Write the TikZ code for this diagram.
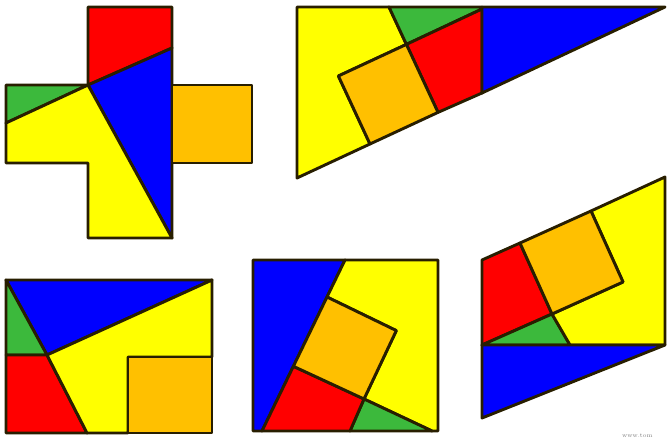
\documentclass[tikz,border=0pt]{standalone}
\usepackage{tikz}
\definecolor{outl}{RGB}{40,30,0}
\definecolor{cyel}{RGB}{255,255,0}
\definecolor{cred}{RGB}{255,0,0}
\definecolor{cblu}{RGB}{0,0,255}
\definecolor{cgrn}{RGB}{60,185,60}
\definecolor{corg}{RGB}{255,192,0}
\tikzset{
  piece/.style={draw=outl, line width=2.9pt, line join=round},
  yel/.style={piece, fill=cyel},
  red/.style={piece, fill=cred},
  blu/.style={piece, fill=cblu},
  grn/.style={piece, fill=cgrn},
  org/.style={piece, fill=corg},
  mark text/.style={font=\fontsize{6}{6}\selectfont, text=gray, inner sep=0pt}
}
\begin{document}
\begin{tikzpicture}[x=1pt,y=-1pt]
\useasboundingbox (0,0) rectangle (669,438);
\clip (0,0) rectangle (669,438);
% Shape 1: cross
\draw[red] (88,7) -- (172,7) -- (172,48) -- (88,85) -- cycle;
\draw[blu] (88,85) -- (172,48) -- (172,238) -- cycle;
\draw[grn] (6,85) -- (88,85) -- (6,123) -- cycle;
\draw[yel] (6,123) -- (88,85) -- (172,238) -- (88,238) -- (88,163) -- (6,163) -- cycle;
\draw[org] (172,85) -- (252,85) -- (252,163) -- (172,163) -- cycle;
% Shape 2: right triangle
\draw[yel] (297,7) -- (389,7) -- (406.4,44.4) -- (338.4,76) -- (370,144) -- (297,178) -- cycle;
\draw[grn] (389,7) -- (482,7) -- (482,9) -- (406.4,44.4) -- cycle;
\draw[red] (406.4,44.4) -- (482,9) -- (482,93) -- (438,112.4) -- cycle;
\draw[blu] (482,7) -- (665,7) -- (482,93) -- cycle;
\draw[org] (370,144) -- (438,112.4) -- (406.4,44.4) -- (338.4,76) -- cycle;
% Shape 3: rectangle
\draw[blu] (6,280) -- (212,280) -- (47,355) -- cycle;
\draw[grn] (6,280) -- (47,355) -- (6,355) -- cycle;
\draw[red] (6,355) -- (47,355) -- (87,433) -- (6,433) -- cycle;
\draw[yel] (47,355) -- (212,280) -- (212,357) -- (128,357) -- (128,433) -- (87,433) -- cycle;
\draw[org] (128,357) -- (212,357) -- (212,433) -- (128,433) -- cycle;
% Shape 4: square
\draw[blu] (253,260) -- (345,260) -- (262,431) -- (253,431) -- cycle;
\draw[yel] (345,260) -- (438,260) -- (438,431) -- (432,431) -- (364,399) -- (396.3,330.6) -- (327,297) -- cycle;
\draw[grn] (364,399) -- (432,431) -- (350,431) -- cycle;
\draw[red] (293.4,366.3) -- (364,399) -- (350,431) -- (262,431) -- cycle;
\draw[org] (327,297) -- (396.3,330.6) -- (364,399) -- (293.4,366.3) -- cycle;
% Shape 5: parallelogram
\draw[red] (482,260) -- (520,243) -- (552,314) -- (482,345) -- cycle;
\draw[grn] (482,345) -- (552,314) -- (570,345) -- cycle;
\draw[yel] (591,211) -- (665,177) -- (665,345) -- (570,345) -- (552,314) -- (623,282) -- cycle;
\draw[org] (520,243) -- (591,211) -- (623,282) -- (552,314) -- cycle;
\draw[blu] (482,345) -- (665,345) -- (482,418) -- cycle;
% watermark
\node[mark text, anchor=west] (wm) at (622,436) {www.tom};
\end{tikzpicture}
\end{document}
